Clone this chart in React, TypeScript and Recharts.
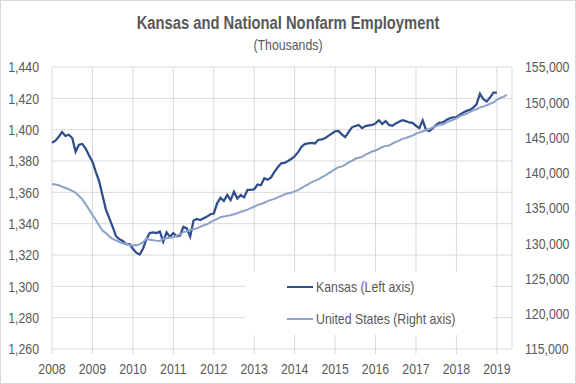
import React from 'react';
import { LineChart, Line, XAxis, YAxis, CartesianGrid, Legend } from 'recharts';

const FONT = "'Liberation Sans', Arial, sans-serif";
const NARROW = 0.82; // squeeze to look like Arial Narrow
const TEXT = '#595959';
const GRID = '#D9D9D9';

// monthly values, Jan 2008 onwards (thousands)
const kansas = [
  // 2008
  1391.7, 1393, 1395.5, 1398.5, 1396, 1396.8, 1394.7, 1386, 1390.4, 1390.9, 1388, 1383.5,
  // 2009
  1379.6, 1373, 1367, 1358, 1349, 1343.5, 1338, 1332, 1330, 1329, 1327, 1327,
  // 2010
  1324, 1321.5, 1320.3, 1324, 1330, 1334, 1334.5, 1334, 1335, 1328.5, 1334.5, 1331.5,
  // 2011
  1334, 1332, 1332.5, 1338, 1337, 1331.7, 1342, 1343, 1342.3, 1343.5, 1344.5, 1346,
  // 2012
  1346.5, 1353, 1356.5, 1354.5, 1358.3, 1355, 1360.4, 1356, 1358.3, 1356.8, 1361.5, 1361.5,
  // 2013
  1362, 1365, 1364.5, 1369, 1368, 1369.5, 1373, 1376, 1378.5, 1378.8, 1380, 1381.3,
  // 2014
  1383, 1385.5, 1389, 1390.8, 1391.3, 1391.5, 1391.2, 1393.4, 1393.8, 1394.5, 1396, 1397.5,
  // 2015
  1399, 1399.2, 1397, 1395.2, 1398.5, 1401.5, 1402.3, 1403, 1401, 1402.3, 1402.8, 1403,
  // 2016
  1404, 1406, 1403.6, 1405.5, 1403, 1402.5, 1404, 1405, 1406, 1405.5, 1404.6, 1404.3,
  // 2017
  1402.5, 1401, 1406, 1399.8, 1399.2, 1400.9, 1403, 1404.5, 1404.7, 1406.2, 1407.3, 1407.9,
  // 2018
  1408, 1409.5, 1410.8, 1412, 1412.6, 1414, 1416.3, 1423, 1419.4, 1418, 1420.6, 1423.6,
  // 2019
  1423.6,
];

const unitedStates = [
  // 2008
  138400, 138320, 138240, 138020, 137840, 137660, 137440, 137170, 136710, 136230, 135510, 134800,
  // 2009
  134020, 133290, 132490, 131800, 131440, 130970, 130630, 130410, 130170, 129970, 129980, 129710,
  // 2010
  129730, 129700, 129870, 130120, 130640, 130490, 130410, 130350, 130330, 130600, 130720, 130800,
  // 2011
  130850, 131050, 131280, 131590, 131690, 131930, 132000, 132110, 132340, 132550, 132690, 133000,
  // 2012
  133200, 133470, 133700, 133780, 133900, 133970, 134110, 134260, 134460, 134620, 134770, 134980,
  // 2013
  135170, 135450, 135560, 135750, 135970, 136150, 136290, 136510, 136700, 136940, 137080, 137170,
  // 2014
  137360, 137530, 137810, 138120, 138360, 138650, 138880, 139060, 139350, 139600, 139920, 140190,
  // 2015
  140530, 140800, 140870, 141160, 141480, 141690, 141980, 142130, 142250, 142580, 142790, 143010,
  // 2016
  143160, 143400, 143650, 143810, 143850, 144120, 144390, 144550, 144810, 144940, 145100, 145270,
  // 2017
  145530, 145730, 145850, 146060, 146210, 146440, 146620, 146810, 146830, 147100, 147340, 147520,
  // 2018
  147700, 148030, 148170, 148370, 148640, 148860, 149000, 149280, 149390, 149590, 149790, 149980,
  // 2019
  150350, 150600, 150800, 151050,
];

const yearTicks = [0, 12, 24, 36, 48, 60, 72, 84, 96, 108, 120, 132];
const leftTicks = [1260, 1280, 1300, 1320, 1340, 1360, 1380, 1400, 1420, 1440];
const rightTicks = [115000, 120000, 125000, 130000, 135000, 140000, 145000, 150000, 155000];

const data = unitedStates.map((us, m) => ({
  m,
  kansas: m < kansas.length ? kansas[m] : undefined,
  us,
}));

const fmt = (v: number) => v.toLocaleString('en-US');

// narrow tick label, anchored like recharts would
function NarrowTick(props: any) {
  const { x, y, payload, textAnchor, dy, label } = props;
  return (
    <g transform={`translate(${x},${y}) scale(${NARROW},1)`}>
      <text x={0} y={0} dy={dy} textAnchor={textAnchor} fill={TEXT} fontSize={15} fontFamily={FONT}>
        {label(payload.value)}
      </text>
    </g>
  );
}

function LegendBox(props: any) {
  const items = props.payload || [];
  return (
    <div style={{ width: 248, height: 63, background: '#fff', position: 'relative', fontFamily: FONT }}>
      {items.map((it: any, i: number) => (
        <div key={i} style={{ position: 'absolute', left: 42, top: 6 + i * 32, height: 18, display: 'flex', alignItems: 'center' }}>
          <div style={{ width: 26, height: 2, background: it.color, marginRight: 3 }} />
          <span style={{ color: TEXT, fontSize: 15, lineHeight: '18px', display: 'inline-block', transform: `scaleX(${NARROW})`, transformOrigin: 'left center', whiteSpace: 'nowrap' }}>
            {it.value}
          </span>
        </div>
      ))}
    </div>
  );
}

const headStyle: React.CSSProperties = {
  position: 'absolute',
  left: 0,
  width: 576,
  textAlign: 'center',
  fontFamily: FONT,
  color: TEXT,
  transform: `scaleX(${NARROW})`,
  transformOrigin: '288px 0',
  whiteSpace: 'nowrap',
};

export default function App() {
  return (
    <div style={{ position: 'absolute', left: 0, top: 0, width: 576, height: 384, background: '#fff' }}>
      <div style={{ ...headStyle, top: 14, fontWeight: 'bold', fontSize: 18, lineHeight: '18px' }}>
        Kansas and National Nonfarm Employment
      </div>
      <div style={{ ...headStyle, top: 37, fontSize: 15, lineHeight: '15px' }}>(Thousands)</div>
      <LineChart width={576} height={384} data={data} margin={{ top: 67, right: 0, bottom: 5, left: 8 }}>
        <CartesianGrid stroke={GRID} yAxisId="left" />
        <XAxis
          dataKey="m"
          type="number"
          domain={[0, 136.5]}
          ticks={yearTicks}
          tick={<NarrowTick dy="0.71em" label={(v: number) => String(2008 + v / 12)} />}
          axisLine={false}
          tickLine={{ stroke: GRID }}
          tickSize={5}
          tickMargin={9}
          height={30}
        />
        <YAxis
          yAxisId="left"
          orientation="left"
          domain={[1260, 1440]}
          ticks={leftTicks}
          tick={<NarrowTick dy="0.355em" label={fmt} />}
          axisLine={false}
          tickLine={false}
          tickMargin={7}
          width={44}
        />
        <YAxis
          yAxisId="right"
          orientation="right"
          domain={[115000, 155000]}
          ticks={rightTicks}
          tick={<NarrowTick dy="0.355em" label={fmt} />}
          axisLine={false}
          tickLine={false}
          tickMargin={7}
          width={64}
        />
        <Legend
          layout="vertical"
          align="center"
          verticalAlign="middle"
          content={<LegendBox />}
          wrapperStyle={{ position: 'absolute', left: 245, top: 272, width: 248, height: 63 }}
        />
        <Line
          yAxisId="left"
          dataKey="kansas"
          name="Kansas (Left axis)"
          stroke="#2F4E8C"
          strokeWidth={2.25}
          dot={false}
          isAnimationActive={false}
        />
        <Line
          yAxisId="right"
          dataKey="us"
          name="United States (Right axis)"
          stroke="#8EA2C9"
          strokeWidth={2}
          dot={false}
          isAnimationActive={false}
        />
      </LineChart>
      <div style={{ position: 'absolute', left: 0, top: 0, width: 576, height: 384, boxSizing: 'border-box', border: '1px solid #D9D9D9', pointerEvents: 'none' }} />
    </div>
  );
}
